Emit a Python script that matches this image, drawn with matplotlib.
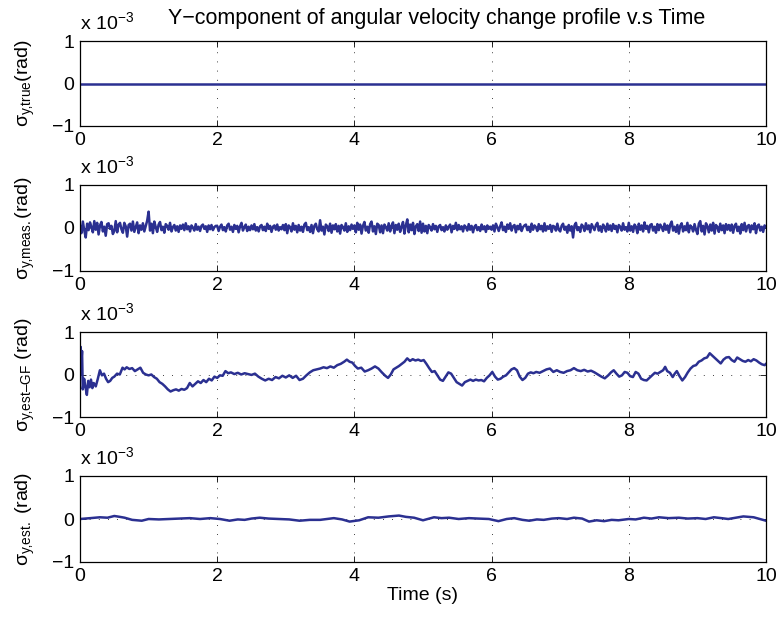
import numpy as np
import matplotlib
matplotlib.use("Agg")
import matplotlib.pyplot as plt

plt.rcParams['font.family'] = ['Liberation Sans', 'DejaVu Sans']
plt.rcParams['mathtext.fontset'] = 'custom'
plt.rcParams['mathtext.rm'] = 'Liberation Sans'
plt.rcParams['mathtext.it'] = 'Liberation Sans'
plt.rcParams['mathtext.bf'] = 'Liberation Sans:bold'

# values in units of 1e-3 rad
true_t = [0.0, 10.0]
true_v = [0.0, 0.0]

meas_v = [
    0.05, -0.12, 0.15, -0.06, -0.22, 0.10, -0.05, 0.13, 0.02, -0.10, 0.16, -0.04, 0.12, -0.15, 0.06, 0.14, -0.08, 0.03, -0.18, 0.09, 0.11, -0.02, 0.05, -0.14,
    -0.07, 0.16, -0.10, 0.08, 0.12, -0.03, -0.11, 0.12, 0.04, -0.20, 0.07, 0.10, -0.06, 0.15, -0.09, 0.02, 0.13, -0.12, 0.06, -0.04, 0.11, -0.08, 0.05, 0.17,
    0.38, -0.06, 0.10, -0.12, 0.15, 0.02, -0.09, 0.08, 0.14, -0.05, 0.03, -0.11, 0.09, 0.05, -0.04, 0.12, -0.08, 0.02, 0.07, -0.06, 0.04, -0.09, 0.06, -0.02,
    0.08, -0.05, 0.11, -0.03, 0.04, -0.08, 0.06, 0.01, -0.06, 0.09, -0.04, 0.03, -0.07, 0.05, 0.08, -0.02, 0.04, -0.09, 0.06, -0.03, 0.07, -0.05, 0.02, 0.05,
    0.05, -0.07, 0.03, 0.08, -0.05, 0.02, -0.08, 0.06, 0.10, -0.04, 0.03, -0.09, 0.07, -0.02, 0.05, -0.10, 0.04, 0.12, -0.06, 0.02, 0.08, -0.07, 0.03, -0.05,
    0.06, -0.03, 0.09, -0.06, 0.02, -0.08, 0.04, 0.07, -0.05, 0.03, -0.07, 0.10, -0.02, 0.05, -0.09, 0.03, 0.06, -0.04, 0.08, -0.06, 0.02, -0.03, 0.07, -0.05,
    0.09, -0.12, 0.06, 0.02, -0.08, 0.11, -0.04, 0.05, -0.10, 0.07, -0.06, 0.03, -0.09, 0.08, 0.12, -0.05, 0.02, -0.09, 0.07, -0.12, 0.05, 0.10, -0.03, -0.08,
    0.18, -0.06, 0.03, -0.15, 0.08, 0.04, -0.07, 0.10, -0.11, 0.06, -0.03, 0.09, -0.08, 0.05, -0.13, 0.07, 0.02, -0.06, 0.11, -0.09, 0.04, -0.05, 0.08, -0.02,
    0.06, -0.10, 0.12, -0.04, 0.08, -0.13, 0.05, 0.14, -0.06, 0.03, -0.11, 0.09, 0.15, -0.08, 0.04, -0.14, 0.10, 0.07, -0.10, 0.06, -0.12, 0.08, 0.02, -0.06,
    0.11, -0.08, 0.05, 0.13, -0.12, 0.07, -0.04, 0.10, -0.09, 0.03, 0.14, -0.13, 0.06, 0.20, -0.10, 0.08, -0.05, 0.12, -0.14, 0.04, 0.09, -0.07, 0.15, -0.11,
    0.10, -0.08, 0.05, -0.12, 0.07, 0.02, -0.06, 0.09, -0.03, 0.05, -0.09, 0.04, 0.07, -0.05, 0.02, -0.08, 0.06, -0.04, 0.03, 0.08, -0.10, 0.05, -0.02, 0.12,
    -0.05, 0.07, -0.03, 0.04, -0.08, 0.06, 0.02, -0.06, 0.09, -0.04, 0.05, -0.10, 0.03, 0.07, -0.05, 0.02, -0.07, 0.08, -0.03, 0.04, -0.09, 0.06, -0.02, 0.03,
    -0.04, 0.06, -0.08, 0.10, 0.02, -0.07, 0.04, 0.13, -0.05, 0.03, -0.09, 0.08, -0.02, 0.11, -0.06, 0.04, 0.07, -0.10, 0.05, -0.03, 0.09, -0.07, 0.02, 0.06,
    0.08, -0.05, 0.03, -0.09, 0.10, -0.04, 0.06, 0.02, -0.07, 0.09, -0.03, 0.05, -0.08, 0.11, -0.06, 0.04, -0.02, 0.07, -0.09, 0.05, 0.03, -0.06, 0.10, -0.04,
    -0.08, 0.05, 0.10, -0.04, 0.03, -0.11, 0.07, -0.06, 0.04, -0.22, 0.06, 0.12, -0.05, 0.02, -0.09, 0.08, 0.04, -0.07, 0.11, -0.03, 0.06, -0.10, 0.09, 0.02,
    -0.05, 0.07, 0.12, -0.06, 0.04, -0.09, 0.08, 0.03, -0.08, 0.10, -0.04, 0.06, -0.07, 0.09, -0.02, 0.05, -0.10, 0.07, 0.03, -0.06, 0.11, -0.04, 0.02, -0.08,
    0.12, -0.06, 0.04, -0.09, 0.08, 0.03, -0.12, 0.10, -0.04, 0.06, -0.08, 0.13, -0.02, 0.05, -0.10, 0.07, 0.09, -0.06, 0.03, -0.11, 0.09, -0.05, 0.08, 0.02,
    -0.07, 0.10, -0.04, 0.06, -0.11, 0.08, 0.15, -0.06, 0.03, -0.09, 0.07, -0.13, 0.05, 0.11, -0.08, 0.04, -0.05, 0.12, -0.10, 0.06, 0.02, -0.08, 0.09, -0.04,
    -0.14, 0.10, 0.16, -0.08, 0.05, -0.15, 0.11, 0.04, -0.10, 0.08, -0.06, 0.12, -0.13, 0.07, 0.02, -0.09, 0.10, -0.05, 0.06, -0.12, 0.09, -0.04, 0.07, -0.06,
    0.08, -0.11, 0.05, 0.10, -0.07, 0.03, -0.13, 0.09, -0.05, 0.12, -0.08, 0.04, 0.07, -0.10, 0.06, -0.03, 0.11, -0.12, 0.05, 0.08, -0.06, 0.03, -0.09, 0.06, 0.02,
]
meas_t = np.linspace(0, 10, len(meas_v))

gf_t = [0.00, 0.01, 0.02, 0.03, 0.04, 0.06, 0.08, 0.10, 0.12, 0.14, 0.16, 0.18, 0.20, 0.23, 0.26, 0.29, 0.32, 0.35, 0.38, 0.41,
        0.44, 0.47, 0.50, 0.54, 0.58, 0.62, 0.65, 0.68, 0.72, 0.76, 0.80, 0.84, 0.88, 0.92, 0.96, 1.00, 1.04, 1.08, 1.12, 1.16,
        1.20, 1.24, 1.28, 1.32, 1.36, 1.40, 1.44, 1.48, 1.52, 1.56, 1.60, 1.64, 1.68, 1.72, 1.76, 1.80, 1.84, 1.88, 1.92, 1.96,
        2.00, 2.04, 2.08, 2.12, 2.16, 2.20, 2.25, 2.30, 2.35, 2.40, 2.45, 2.50, 2.55, 2.60, 2.65, 2.70, 2.75, 2.80, 2.85, 2.90,
        2.95, 3.00, 3.05, 3.10, 3.15, 3.20, 3.25, 3.30, 3.35, 3.40, 3.45, 3.50, 3.55, 3.60, 3.65, 3.70, 3.75, 3.80, 3.85, 3.89,
        3.93, 3.97, 4.01, 4.05, 4.10, 4.15, 4.20, 4.25, 4.30, 4.35, 4.40, 4.45, 4.49, 4.53, 4.57, 4.61, 4.65, 4.69, 4.73, 4.77,
        4.81, 4.85, 4.89, 4.93, 4.97, 5.01, 5.05, 5.09, 5.13, 5.17, 5.21, 5.25, 5.29, 5.33, 5.37, 5.41, 5.45, 5.49, 5.53, 5.57,
        5.61, 5.65, 5.69, 5.73, 5.77, 5.81, 5.85, 5.89, 5.93, 5.97, 6.01, 6.05, 6.09, 6.13, 6.17, 6.21, 6.25, 6.29, 6.33, 6.37,
        6.41, 6.45, 6.49, 6.53, 6.57, 6.61, 6.65, 6.70, 6.75, 6.80, 6.85, 6.90, 6.95, 7.00, 7.05, 7.10, 7.15, 7.20, 7.25, 7.30,
        7.35, 7.40, 7.45, 7.50, 7.55, 7.60, 7.65, 7.70, 7.74, 7.78, 7.82, 7.86, 7.90, 7.94, 7.98, 8.02, 8.06, 8.10, 8.14, 8.18,
        8.22, 8.26, 8.30, 8.34, 8.38, 8.42, 8.46, 8.50, 8.53, 8.56, 8.60, 8.64, 8.67, 8.70, 8.74, 8.78, 8.82, 8.86, 8.90, 8.94,
        8.98, 9.02, 9.06, 9.10, 9.14, 9.18, 9.22, 9.26, 9.30, 9.34, 9.38, 9.42, 9.46, 9.50, 9.54, 9.58, 9.62, 9.66, 9.70, 9.74,
        9.78, 9.82, 9.86, 9.90, 9.94, 9.98, 10.0]
gf_v = [0.00, 0.65, 0.30, 0.55, -0.35, -0.10, -0.30, -0.48, -0.15, -0.30, -0.12, -0.32, -0.20, -0.28, -0.10, 0.10, -0.02, 0.02, -0.10, -0.18,
        -0.15, -0.08, -0.05, 0.02, 0.00, 0.16, 0.12, 0.17, 0.13, 0.15, 0.08, 0.12, 0.16, 0.04, 0.00, -0.02, 0.00, -0.06, -0.10, -0.18,
        -0.22, -0.28, -0.35, -0.40, -0.37, -0.35, -0.38, -0.34, -0.36, -0.32, -0.20, -0.28, -0.22, -0.16, -0.20, -0.13, -0.18, -0.10, -0.14, -0.05,
        -0.08, -0.02, -0.03, 0.08, 0.03, 0.05, 0.01, 0.04, 0.00, 0.03, 0.01, -0.01, 0.02, -0.05, -0.10, -0.14, -0.10, -0.13, -0.06, -0.09,
        -0.03, -0.07, -0.02, -0.08, -0.03, -0.13, -0.10, -0.02, 0.05, 0.10, 0.12, 0.14, 0.17, 0.15, 0.19, 0.16, 0.22, 0.25, 0.30, 0.35,
        0.30, 0.28, 0.20, 0.14, 0.16, 0.07, 0.10, 0.14, 0.19, 0.14, 0.05, -0.03, -0.08, 0.00, 0.12, 0.16, 0.20, 0.25, 0.30, 0.38,
        0.32, 0.36, 0.33, 0.35, 0.32, 0.34, 0.25, 0.15, 0.06, 0.08, -0.02, -0.12, -0.15, -0.05, 0.05, 0.02, -0.08, -0.18, -0.22, -0.26,
        -0.18, -0.15, -0.12, -0.15, -0.12, -0.14, -0.13, -0.16, -0.08, -0.02, 0.06, -0.05, -0.12, -0.10, -0.05, -0.02, 0.05, 0.12, 0.15, 0.10,
        -0.05, -0.13, -0.08, 0.02, 0.05, 0.03, 0.06, 0.04, 0.08, 0.12, 0.14, 0.06, 0.10, 0.06, 0.04, 0.08, 0.10, 0.15, 0.10, 0.08,
        0.11, 0.07, 0.09, 0.05, 0.00, -0.05, -0.09, -0.02, 0.05, 0.10, 0.02, -0.05, -0.02, 0.06, 0.04, -0.04, -0.06, 0.06, 0.02, -0.10,
        -0.13, -0.14, -0.08, -0.02, 0.04, 0.02, 0.06, 0.10, 0.18, 0.08, 0.04, -0.06, 0.02, 0.08, -0.04, -0.14, -0.06, 0.05, 0.14, 0.20,
        0.22, 0.30, 0.33, 0.38, 0.40, 0.50, 0.44, 0.38, 0.32, 0.26, 0.35, 0.40, 0.41, 0.34, 0.30, 0.40, 0.36, 0.32, 0.30, 0.34,
        0.31, 0.36, 0.33, 0.28, 0.24, 0.22, 0.25]

est_t = [0.0, 0.15, 0.29, 0.40, 0.50, 0.58, 0.65, 0.76, 0.90, 1.0, 1.15, 1.3, 1.45, 1.6, 1.75, 1.9, 2.04, 2.18, 2.3, 2.4,
         2.5, 2.62, 2.75, 2.9, 3.05, 3.2, 3.35, 3.5, 3.6, 3.7, 3.82, 3.93, 4.07, 4.2, 4.35, 4.5, 4.65, 4.75, 4.87, 5.0,
         5.16, 5.27, 5.38, 5.52, 5.67, 5.8, 5.96, 6.1, 6.22, 6.33, 6.45, 6.55, 6.66, 6.76, 6.88, 6.98, 7.1, 7.2, 7.32, 7.42,
         7.53, 7.64, 7.75, 7.85, 8.0, 8.1, 8.22, 8.33, 8.44, 8.58, 8.73, 8.86, 9.0, 9.12, 9.24, 9.35, 9.45, 9.56, 9.67, 9.82, 10.0]
est_v = [0.00, 0.02, 0.04, 0.03, 0.07, 0.05, 0.03, -0.02, -0.04, 0.00, -0.01, 0.00, 0.01, 0.02, 0.00, 0.02, 0.00, -0.04, -0.01, -0.02,
         0.01, 0.03, 0.01, 0.00, -0.01, -0.04, -0.02, -0.02, 0.00, 0.02, -0.01, -0.06, -0.03, 0.04, 0.03, 0.06, 0.08, 0.05, 0.03, -0.03,
         0.04, 0.02, 0.03, 0.00, 0.02, 0.01, 0.00, -0.05, 0.00, 0.02, -0.02, -0.04, -0.01, -0.02, 0.01, 0.02, 0.00, 0.03, 0.01, -0.06,
         -0.03, -0.05, -0.02, -0.03, 0.00, -0.01, 0.03, 0.01, 0.04, 0.02, 0.03, 0.01, 0.02, 0.00, 0.04, 0.02, 0.00, 0.03, 0.06, 0.04, -0.04]

cm = '\u201a'  # comma-like glyph, avoids mathtext punctuation spacing
dash = '\u2013'
ylabels = [r'$\sigma_{\mathrm{y' + cm + r'true}}$(rad)',
           r'$\sigma_{\mathrm{y' + cm + r'meas.}}$(rad)',
           r'$\sigma_{\mathrm{y' + cm + 'est' + dash + r'GF}}$ (rad)',
           r'$\sigma_{\mathrm{y' + cm + r'est.}}$ (rad)']
series = [(true_t, true_v), (meas_t, meas_v), (gf_t, gf_v), (est_t, est_v)]
line_color = '#2b3091'

fig = plt.figure(figsize=(7.81, 6.18), dpi=100)
tops = [41, 185, 332, 476]
bottoms = [126, 271, 417, 562]
left_px, right_px = 80, 766

for i, (tt, vv) in enumerate(series):
    b = 1 - bottoms[i] / 618
    h = (bottoms[i] - tops[i]) / 618
    ax = fig.add_axes([left_px / 781, b, (right_px - left_px) / 781, h])
    ax.plot(tt, vv, color=line_color, lw=1.8)
    ax.set_xlim(0, 10)
    ax.set_ylim(-1, 1)
    ax.set_xticks([0, 2, 4, 6, 8, 10])
    ax.set_yticks([-1, 0, 1])
    ax.set_yticklabels(['\u22121', '0', '1'])
    ax.tick_params(direction='in', top=True, right=True, length=4, width=0.6,
                   labelsize=14, pad=4)
    ax.grid(True, ls=(0, (1, 10)), color='k', lw=0.6)
    for s in ax.spines.values():
        s.set_linewidth(0.9)
    ax.set_ylabel(ylabels[i], fontsize=14)
    ax.yaxis.set_label_coords(-0.062, 0.5)
    ax.text(0, 1.09, 'x 10$^{\\mathrm{\u22123}}$', transform=ax.transAxes,
            fontsize=14, ha='left', va='bottom')
    if i == 0:
        ax.set_title('Y\u2212component of angular velocity change profile v.s Time',
                     fontsize=15.5, pad=12, x=0.52)
    if i == 3:
        ax.set_xlabel('Time (s)', fontsize=14, labelpad=2)

fig.savefig('out.png', dpi=100)
